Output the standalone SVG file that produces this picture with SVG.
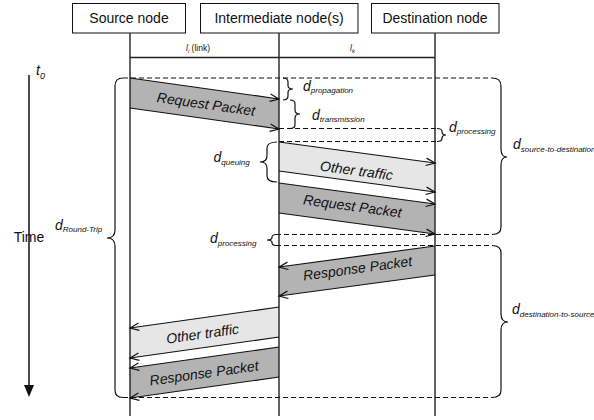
<svg xmlns="http://www.w3.org/2000/svg" width="594" height="420" viewBox="0 0 594 420">
<defs>
<style>
.box{fill:#fff;stroke:#111;stroke-width:1}
.bt{font-family:"Liberation Sans",Arial,sans-serif;font-size:14px;fill:#111;text-anchor:middle}
.life{stroke:#222;stroke-width:1.4;fill:none}
.edge{stroke:#111;stroke-width:1.2;fill:none;marker-end:url(#arr)}
.dash{stroke:#111;stroke-width:1.1;stroke-dasharray:5,3;fill:none}
.brace{stroke:#111;stroke-width:1.2;fill:none}
.dark{fill:#b3b3b3;stroke:none}
.light{fill:#e6e6e6;stroke:none}
.pl{font-family:"Liberation Sans",Arial,sans-serif;font-size:14px;font-style:italic;fill:#111;text-anchor:middle}
.dl{font-family:"Liberation Sans",Arial,sans-serif;font-size:14px;font-style:italic;fill:#111}
.sub{font-size:8px}
.small{font-family:"Liberation Sans",Arial,sans-serif;font-size:8.5px;fill:#111}
</style>
<marker id="arr" markerUnits="userSpaceOnUse" markerWidth="12" markerHeight="10" refX="10" refY="5" orient="auto" viewBox="0 0 12 10">
<path d="M1,1.3 L10,5 L1,8.7" fill="none" stroke="#111" stroke-width="1.2"/>
</marker>
<marker id="tri" markerUnits="userSpaceOnUse" markerWidth="12" markerHeight="14" refX="6" refY="12" orient="0" viewBox="0 0 12 14">
<path d="M1,0 L11,0 L6,12 Z" fill="#111"/>
</marker>
</defs>
<rect width="594" height="420" fill="#fff"/>

<g id="packets">
<polygon class="dark" points="130,78 279,99 279,129 130,108"/>
<polygon class="light" points="279,142 435,163 435,192 279,171"/>
<polygon class="dark" points="279,183 435,204 435,234 279,213"/>
<polygon class="dark" points="435,246 279,267 279,296 435,275"/>
<polygon class="light" points="279,307 130,328 130,358 279,337"/>
<polygon class="dark" points="279,347 130,368 130,398 279,377"/>
</g>

<g id="source-node">
<rect class="box" x="72.5" y="3.5" width="113" height="29.5"/>
<text class="bt" x="129" y="23">Source node</text>
<line class="life" x1="130" y1="33" x2="130" y2="416"/>
</g>
<g id="intermediate-node">
<rect class="box" x="200.5" y="3.5" width="157.5" height="29.5"/>
<text class="bt" x="279" y="23">Intermediate node(s)</text>
<line class="life" x1="279" y1="33" x2="279" y2="416"/>
</g>
<g id="destination-node">
<rect class="box" x="371.5" y="3.5" width="127.5" height="29.5"/>
<text class="bt" x="435" y="23">Destination node</text>
<line class="life" x1="435" y1="33" x2="435" y2="416"/>
</g>

<g id="links">
<line class="life" x1="130" y1="57.5" x2="435" y2="57.5"/>
<text class="small" x="186" y="51"><tspan font-style="italic">l</tspan><tspan font-style="italic" font-size="6" dy="1.5">i</tspan><tspan dy="-1.5"> (link)</tspan></text>
<text class="small" x="350" y="51"><tspan font-style="italic">l</tspan><tspan font-style="italic" font-size="6" dy="1.5">k</tspan></text>
</g>

<g id="connectors">
<line class="edge" x1="130" y1="78" x2="279" y2="99"/>
<line class="edge" x1="130" y1="108" x2="279" y2="129"/>
<line class="edge" x1="279" y1="142" x2="435" y2="163"/>
<line class="edge" x1="279" y1="171" x2="435" y2="192"/>
<line class="edge" x1="279" y1="183" x2="435" y2="204"/>
<line class="edge" x1="279" y1="213" x2="435" y2="234"/>
<line class="edge" x1="435" y1="246" x2="279" y2="267"/>
<line class="edge" x1="435" y1="275" x2="279" y2="296"/>
<line class="edge" x1="279" y1="307" x2="130" y2="328"/>
<line class="edge" x1="279" y1="337" x2="130" y2="358"/>
<line class="edge" x1="279" y1="347" x2="130" y2="368"/>
<line class="edge" x1="279" y1="377" x2="130" y2="398"/>
</g>

<g id="packet-labels">
<text class="pl" transform="translate(206,104) rotate(8)" y="5">Request Packet</text>
<text class="pl" transform="translate(356.5,170.4) rotate(7.7)" y="5">Other traffic</text>
<text class="pl" transform="translate(352.5,206) rotate(7.7)" y="5">Request Packet</text>
<text class="pl" transform="translate(357.5,268.2) rotate(-7.7)" y="5">Response Packet</text>
<text class="pl" transform="translate(202.5,333.6) rotate(-8)" y="5">Other traffic</text>
<text class="pl" transform="translate(204,373) rotate(-8)" y="5">Response Packet</text>
</g>

<g id="timing">
<line class="dash" x1="123" y1="78" x2="492" y2="78"/>
<line class="dash" x1="279" y1="128.5" x2="438" y2="128.5"/>
<line class="dash" x1="279" y1="141.5" x2="438" y2="141.5"/>
<line class="dash" x1="276" y1="234.5" x2="492" y2="234.5"/>
<line class="dash" x1="276" y1="245.5" x2="492" y2="245.5"/>
<line class="dash" x1="123" y1="397.5" x2="492" y2="397.5"/>

<path class="brace" d="M123,78 Q115,78 115,86 L115,230 Q115,238 107,238 Q115,238 115,246 L115,390 Q115,397.5 123,397.5"/>
<path class="brace" d="M492,78 Q501,78 501,86 L501,149 Q501,157 507,157 Q501,157 501,165 L501,227 Q501,234.5 492,234.5"/>
<path class="brace" d="M492,245.5 Q501,245.5 501,253 L501,314 Q501,322 508,322 Q501,322 501,330 L501,390 Q501,397.5 492,397.5"/>
<path class="brace" d="M283,78 Q288,78 288,82 L288,85.5 Q288,89 293,89 Q288,89 288,92.5 L288,96 Q288,100 283,100"/>
<path class="brace" d="M290,100 Q295,100 295,104 L295,110 Q295,114 300,114 Q295,114 295,118 L295,124.5 Q295,128.5 290,128.5"/>
<path class="brace" d="M437,128.5 Q442,128.5 442,131.5 Q442,135 446,135 Q442,135 442,138.5 Q442,141.5 437,141.5"/>
<path class="brace" d="M277,142 Q267,142 267,148 L267,156 Q267,162 260,162 Q267,162 267,168 L267,176 Q267,182 277,182"/>
<path class="brace" d="M276,234.5 Q272,234.5 272,237.5 Q272,240 267,240 Q272,240 272,242.5 Q272,245.5 276,245.5"/>

<text class="dl" x="303" y="90.5">d<tspan class="sub" dy="2">propagation</tspan></text>
<text class="dl" x="312" y="120">d<tspan class="sub" dy="2">transmission</tspan></text>
<text class="dl" x="449" y="131.5">d<tspan class="sub" dy="2.5">processing</tspan></text>
<text class="dl" x="513" y="149">d<tspan class="sub" dy="3">source-to-destination</tspan></text>
<text class="dl" x="213.5" y="162">d<tspan class="sub" dy="2.5">queuing</tspan></text>
<text class="dl" x="55" y="229.5">d<tspan class="sub" dy="2.5">Round-Trip</tspan></text>
<text class="dl" x="210" y="243">d<tspan class="sub" dy="3">processing</tspan></text>
<text class="dl" x="512" y="314">d<tspan class="sub" dy="3">destination-to-source</tspan></text>
</g>

<g id="time-axis">
<line x1="29" y1="75" x2="29" y2="386" stroke="#111" stroke-width="1.5"/>
<path d="M24,385 L34,385 L29,397 Z" fill="#111"/>
<text class="dl" x="36" y="75">t<tspan font-size="9" dy="3.5">0</tspan></text>
<text class="bt" x="29" y="242" style="text-anchor:middle">Time</text>
</g>
</svg>
